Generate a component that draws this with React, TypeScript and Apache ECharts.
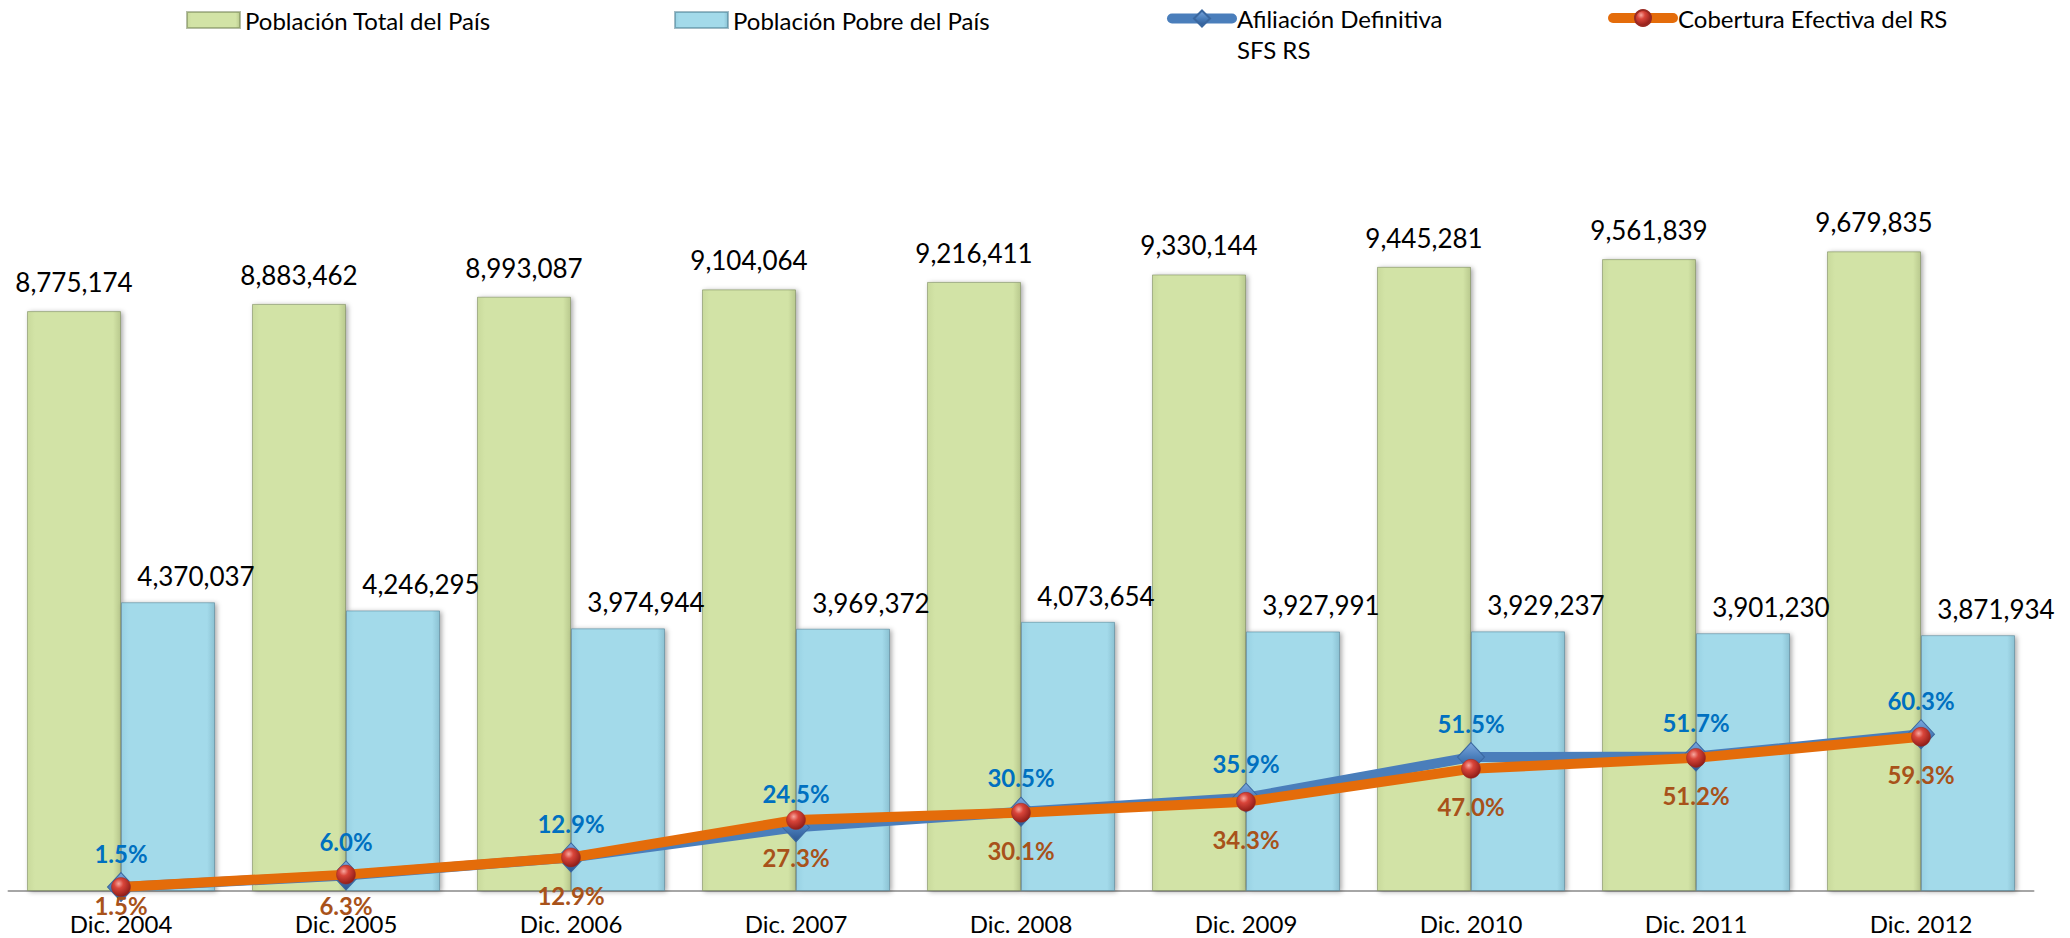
import React, { useEffect, useRef } from "react";
import * as echarts from "echarts";

const categories = ["Dic. 2004", "Dic. 2005", "Dic. 2006", "Dic. 2007", "Dic. 2008", "Dic. 2009", "Dic. 2010", "Dic. 2011", "Dic. 2012"];
const poblacionTotal = [8775174, 8883462, 8993087, 9104064, 9216411, 9330144, 9445281, 9561839, 9679835];
const poblacionPobre = [4370037, 4246295, 3974944, 3969372, 4073654, 3927991, 3929237, 3901230, 3871934];
const afiliacion = [1.5, 6.0, 12.9, 24.5, 30.5, 35.9, 51.5, 51.7, 60.3];
const cobertura = [1.5, 6.3, 12.9, 27.3, 30.1, 34.3, 47.0, 51.2, 59.3];

const N_TOTAL = "Población Total del País";
const N_POBRE = "Población Pobre del País";
const N_AFIL = "Afiliación Definitiva\nSFS RS";
const N_COB = "Cobertura Efectiva del RS";

const FONT = "Lato, 'Open Sans', sans-serif";

export default function App() {
  const ref = useRef<HTMLDivElement>(null);
  useEffect(() => {
    if (!ref.current) return;
    const chart = echarts.init(ref.current, undefined, { renderer: "svg" });
    const fmtNum = (p: any) => Number(p.value).toLocaleString("en-US");
    const fmtPct = (p: any) => Number(p.value).toFixed(1) + "%";
    const barShadow = {
      shadowColor: "rgba(0,0,0,0.35)",
      shadowBlur: 5,
      shadowOffsetX: 2,
      shadowOffsetY: 1,
    };
    const legendText = { fontFamily: FONT, fontSize: 24, color: "#000" };
    chart.setOption({
      animation: false,
      backgroundColor: "#ffffff",
      legend: [
        { data: [N_TOTAL], left: 186, top: 8, padding: 0, itemWidth: 53, itemHeight: 16, icon: "rect", textStyle: legendText },
        { data: [N_POBRE], left: 674, top: 8, padding: 0, itemWidth: 53, itemHeight: 16, icon: "rect", textStyle: legendText },
        {
          data: [N_AFIL], left: 1167, top: -28, padding: 0, itemWidth: 60, itemHeight: 20,
          formatter: (name: string) => "\n" + name,
          lineStyle: { width: 10, cap: "round" },
          textStyle: { ...legendText, lineHeight: 31 },
        },
        {
          data: [N_COB], left: 1608, top: 6, padding: 0, itemWidth: 60, itemHeight: 20,
          lineStyle: { width: 10, cap: "round" },
          textStyle: legendText,
        },
      ],
      grid: { left: 8.5, right: 36.5, top: 98, bottom: 47 },
      xAxis: {
        type: "category",
        data: categories,
        axisLine: { show: true, lineStyle: { color: "#A6A6A6", width: 2 } },
        axisTick: { show: false },
        axisLabel: { fontFamily: FONT, fontSize: 24, color: "#000", margin: 20, interval: 0 },
        splitLine: { show: false },
      },
      yAxis: [
        { type: "value", min: 0, max: 12000000, show: false, splitLine: { show: false } },
        { type: "value", min: 0, max: 305, show: false, splitLine: { show: false } },
      ],
      series: [
        {
          name: N_TOTAL,
          type: "bar",
          data: poblacionTotal,
          barWidth: 94,
          barGap: "0%",
          itemStyle: {
            color: new echarts.graphic.LinearGradient(0, 0, 1, 0, [
              { offset: 0, color: "#C9DA9C" },
              { offset: 0.08, color: "#D2E3A6" },
              { offset: 0.92, color: "#D2E3A6" },
              { offset: 1, color: "#B9C98E" },
            ]),
            borderColor: "rgba(110,125,80,0.5)",
            borderWidth: 1,
            ...barShadow,
          },
          label: {
            show: true, position: "top", distance: 16, formatter: fmtNum,
            fontFamily: FONT, fontSize: 26, color: "#000",
          },
          z: 2,
        },
        {
          name: N_POBRE,
          type: "bar",
          data: poblacionPobre,
          barWidth: 94,
          barGap: "0%",
          itemStyle: {
            color: new echarts.graphic.LinearGradient(0, 0, 1, 0, [
              { offset: 0, color: "#98D1E3" },
              { offset: 0.08, color: "#A3DAEA" },
              { offset: 0.92, color: "#A3DAEA" },
              { offset: 1, color: "#8CC2D3" },
            ]),
            borderColor: "rgba(70,120,140,0.5)",
            borderWidth: 1,
            ...barShadow,
          },
          label: {
            show: true, position: "top", distance: 13, offset: [28, 0], formatter: fmtNum,
            fontFamily: FONT, fontSize: 26, color: "#000",
          },
          z: 2,
        },
        {
          name: N_AFIL,
          type: "line",
          yAxisIndex: 1,
          data: afiliacion,
          symbol: "diamond",
          symbolSize: [27, 29],
          lineStyle: { color: "#4A7EBB", width: 10 },
          itemStyle: {
            color: new echarts.graphic.LinearGradient(0, 0, 0, 1, [
              { offset: 0, color: "#7BA7DE" },
              { offset: 0.5, color: "#4A7EBB" },
              { offset: 1, color: "#2C5690" },
            ]),
            borderColor: "#3A679F",
            borderWidth: 1,
          },
          label: {
            show: true, position: "top", distance: 7, formatter: fmtPct,
            fontFamily: FONT, fontSize: 24, fontWeight: "bold", color: "#0070C0",
          },
          z: 3,
        },
        {
          name: N_COB,
          type: "line",
          yAxisIndex: 1,
          data: cobertura,
          symbol: "circle",
          symbolSize: 19,
          lineStyle: { color: "#E46C0A", width: 10 },
          itemStyle: {
            color: new echarts.graphic.RadialGradient(0.38, 0.32, 0.7, [
              { offset: 0, color: "#F7A8A0" },
              { offset: 0.35, color: "#D9453A" },
              { offset: 1, color: "#8E1C17" },
            ]),
            borderColor: "#9A2A22",
            borderWidth: 0.5,
          },
          label: {
            show: true, position: "bottom", distance: 16, formatter: fmtPct,
            fontFamily: FONT, fontSize: 24, fontWeight: "bold", color: "#A8521A",
          },
          labelLayout: (params: any) => {
            const r = params.labelRect;
            const cy = r.y + r.height / 2;
            if (cy > 905) {
              return { x: r.x + r.width / 2, y: 905, align: "center", verticalAlign: "middle" };
            }
            return {};
          },
          z: 4,
        },
      ],
    });
    return () => chart.dispose();
  }, []);
  return (
    <div
      ref={ref}
      style={{ position: "absolute", left: 0, top: 0, width: 2070, height: 938 }}
    />
  );
}
